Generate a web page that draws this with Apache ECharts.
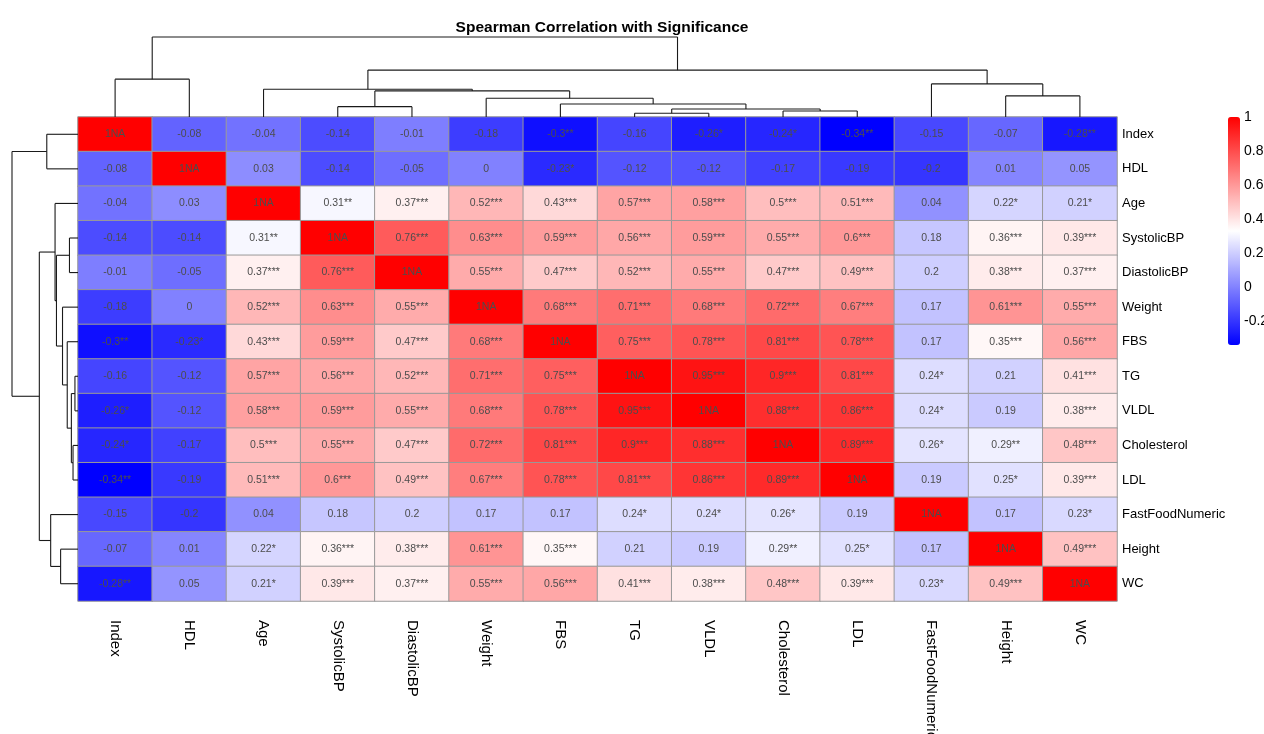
<!DOCTYPE html>
<html>
<head>
<meta charset="utf-8">
<script src="https://cdn.jsdelivr.net/npm/echarts@6/dist/echarts.min.js"></script>
<style>html,body{margin:0;padding:0;background:#fff;}#chart{width:1264px;height:734px;}</style>
</head>
<body>
<div id="chart"></div>
<script>
// ---- data ----
const labels = ['Index','HDL','Age','SystolicBP','DiastolicBP','Weight','FBS','TG','VLDL','Cholesterol','LDL','FastFoodNumeric','Height','WC'];

const rowIndex  = [1, -0.08, -0.04, -0.14, -0.01, -0.18, -0.3, -0.16, -0.26, -0.24, -0.34, -0.15, -0.07, -0.28];
const rowHDL    = [-0.08, 1, 0.03, -0.14, -0.05, 0, -0.23, -0.12, -0.12, -0.17, -0.19, -0.2, 0.01, 0.05];
const rowAge    = [-0.04, 0.03, 1, 0.31, 0.37, 0.52, 0.43, 0.57, 0.58, 0.5, 0.51, 0.04, 0.22, 0.21];
const rowSys    = [-0.14, -0.14, 0.31, 1, 0.76, 0.63, 0.59, 0.56, 0.59, 0.55, 0.6, 0.18, 0.36, 0.39];
const rowDia    = [-0.01, -0.05, 0.37, 0.76, 1, 0.55, 0.47, 0.52, 0.55, 0.47, 0.49, 0.2, 0.38, 0.37];
const rowWeight = [-0.18, 0, 0.52, 0.63, 0.55, 1, 0.68, 0.71, 0.68, 0.72, 0.67, 0.17, 0.61, 0.55];
const rowFBS    = [-0.3, -0.23, 0.43, 0.59, 0.47, 0.68, 1, 0.75, 0.78, 0.81, 0.78, 0.17, 0.35, 0.56];
const rowTG     = [-0.16, -0.12, 0.57, 0.56, 0.52, 0.71, 0.75, 1, 0.95, 0.9, 0.81, 0.24, 0.21, 0.41];
const rowVLDL   = [-0.26, -0.12, 0.58, 0.59, 0.55, 0.68, 0.78, 0.95, 1, 0.88, 0.86, 0.24, 0.19, 0.38];
const rowChol   = [-0.24, -0.17, 0.5, 0.55, 0.47, 0.72, 0.81, 0.9, 0.88, 1, 0.89, 0.26, 0.29, 0.48];
const rowLDL    = [-0.34, -0.19, 0.51, 0.6, 0.49, 0.67, 0.78, 0.81, 0.86, 0.89, 1, 0.19, 0.25, 0.39];
const rowFF     = [-0.15, -0.2, 0.04, 0.18, 0.2, 0.17, 0.17, 0.24, 0.24, 0.26, 0.19, 1, 0.17, 0.23];
const rowHeight = [-0.07, 0.01, 0.22, 0.36, 0.38, 0.61, 0.35, 0.21, 0.19, 0.29, 0.25, 0.17, 1, 0.49];
const rowWC     = [-0.28, 0.05, 0.21, 0.39, 0.37, 0.55, 0.56, 0.41, 0.38, 0.48, 0.39, 0.23, 0.49, 1];

const starIndex  = ['NA','','','','','','**','','*','*','**','','','**'];
const starHDL    = ['','NA','','','','','*','','','','','','',''];
const starAge    = ['','','NA','**','***','***','***','***','***','***','***','','*','*'];
const starSys    = ['','','**','NA','***','***','***','***','***','***','***','','***','***'];
const starDia    = ['','','***','***','NA','***','***','***','***','***','***','','***','***'];
const starWeight = ['','','***','***','***','NA','***','***','***','***','***','','***','***'];
const starFBS    = ['**','*','***','***','***','***','NA','***','***','***','***','','***','***'];
const starTG     = ['','','***','***','***','***','***','NA','***','***','***','*','','***'];
const starVLDL   = ['*','','***','***','***','***','***','***','NA','***','***','*','','***'];
const starChol   = ['*','','***','***','***','***','***','***','***','NA','***','*','**','***'];
const starLDL    = ['**','','***','***','***','***','***','***','***','***','NA','','*','***'];
const starFF     = ['','','','','','','','*','*','*','','NA','','*'];
const starHeight = ['','','*','***','***','***','***','','','**','*','','NA','***'];
const starWC     = ['**','','*','***','***','***','***','***','***','***','***','*','***','NA'];

// dendrogram (hclust-style merges: negative = leaf, positive = earlier merge, 1-based)
const mergeA = [-8, -10, -4, 1, -7, -6, -13, 3, -3, -12, -1, 9, 11];
const mergeB = [-9, -11, -5, 2, 4, 5, -14, 6, 8, 7, -2, 10, 12];
const mergeH = [3.7, 6, 10.3, 8, 13, 18.7, 21, 26, 27.7, 33, 37.7, 46.7, 79.7];

const legendTicks = [-0.2, 0, 0.2, 0.4, 0.6, 0.8, 1];
const colorMin = -0.34, colorMax = 1;

// ---- build ----
const rows = [rowIndex,rowHDL,rowAge,rowSys,rowDia,rowWeight,rowFBS,rowTG,rowVLDL,rowChol,rowLDL,rowFF,rowHeight,rowWC];
const stars = [starIndex,starHDL,starAge,starSys,starDia,starWeight,starFBS,starTG,starVLDL,starChol,starLDL,starFF,starHeight,starWC];
const heat = [];
rows.forEach((r, ri) => r.forEach((v, ci) => heat.push([ci, ri, v])));

function dendroSegments() {
  const pos = [], ht = [], segs = [];
  const get = ref => ref < 0 ? [-ref - 1 + 0.5, 0] : [pos[ref - 1], ht[ref - 1]];
  for (let k = 0; k < mergeA.length; k++) {
    const [xa, ha] = get(mergeA[k]);
    const [xb, hb] = get(mergeB[k]);
    const h = mergeH[k];
    segs.push([xa, ha, xa, h], [xb, hb, xb, h], [xa, h, xb, h]);
    pos.push((xa + xb) / 2); ht.push(h);
  }
  return segs;
}
const segs = dendroSegments();
const topSegs = segs;
const leftSegs = segs.map(s => [s[1], s[0], s[3], s[2]]);
const maxH = Math.max(...mergeH);

const lineItem = (params, api) => {
  const p1 = api.coord([api.value(0), api.value(1)]);
  const p2 = api.coord([api.value(2), api.value(3)]);
  return { type: 'line', shape: { x1: p1[0], y1: p1[1], x2: p2[0], y2: p2[1] },
           style: { stroke: '#1a1a1a', lineWidth: 1.1 } };
};

const FONT = "'Liberation Sans', Arial, sans-serif";
const chart = echarts.init(document.getElementById('chart'));
chart.setOption({
  backgroundColor: '#ffffff',
  animation: false,
  textStyle: { fontFamily: FONT },
  title: {
    text: 'Spearman Correlation with Significance',
    left: 597, textAlign: 'center', top: 15,
    textStyle: { fontSize: 15.5, fontWeight: 'bold', color: '#000', fontFamily: FONT }
  },
  grid: [
    { left: 78, top: 117, width: 1039, height: 484, outerBoundsMode: 'none', containLabel: false },
    { left: 78, top: 37, width: 1039, height: 80, outerBoundsMode: 'none', containLabel: false },
    { left: 12, top: 117, width: 66, height: 484, outerBoundsMode: 'none', containLabel: false },
    { left: 1228, top: 117, width: 12, height: 228, outerBoundsMode: 'none', containLabel: false }
  ],
  xAxis: [
    { gridIndex: 0, type: 'category', data: labels, position: 'bottom',
      axisLine: { show: false }, axisTick: { show: false }, splitLine: { show: false },
      axisLabel: { rotate: -90, margin: 19, fontSize: 15, color: '#000', interval: 0 } },
    { gridIndex: 1, type: 'value', min: 0, max: labels.length, show: false },
    { gridIndex: 2, type: 'value', min: 0, max: maxH, inverse: true, show: false },
    { gridIndex: 3, type: 'value', min: 0, max: 1, show: false }
  ],
  yAxis: [
    { gridIndex: 0, type: 'category', data: labels, inverse: true, position: 'right',
      axisLine: { show: false }, axisTick: { show: false }, splitLine: { show: false },
      axisLabel: { margin: 5, fontSize: 13, color: '#000', interval: 0 } },
    { gridIndex: 1, type: 'value', min: 0, max: maxH, show: false },
    { gridIndex: 2, type: 'value', min: 0, max: labels.length, inverse: true, show: false },
    { gridIndex: 3, type: 'value', min: colorMin, max: colorMax, position: 'right',
      axisLine: { show: false }, axisTick: { show: false }, splitLine: { show: false },
      axisLabel: { customValues: legendTicks, margin: 4, fontSize: 14, color: '#000',
                   showMinLabel: true, showMaxLabel: true } }
  ],
  visualMap: {
    type: 'continuous', seriesIndex: 0, min: colorMin, max: colorMax,
    inRange: { color: ['#0000ff', '#ffffff', '#ff0000'] },
    show: true, calculable: false, left: 1228, top: 117, itemWidth: 12, itemHeight: 228,
    padding: 0, text: null, hoverLink: false
  },
  series: [
    { type: 'heatmap', xAxisIndex: 0, yAxisIndex: 0, data: heat,
      itemStyle: { borderColor: '#999999', borderWidth: 1 },
      emphasis: { disabled: true },
      label: { show: true, color: '#4d4d4d', fontSize: 10.5,
               formatter: p => String(rows[p.data[1]][p.data[0]]) + stars[p.data[1]][p.data[0]] } },
    { type: 'custom', xAxisIndex: 1, yAxisIndex: 1, data: topSegs, renderItem: lineItem,
      encode: { x: [0, 2], y: [1, 3] }, silent: true },
    { type: 'custom', xAxisIndex: 2, yAxisIndex: 2, data: leftSegs, renderItem: lineItem,
      encode: { x: [0, 2], y: [1, 3] }, silent: true }
  ]
});
</script>
</body>
</html>
